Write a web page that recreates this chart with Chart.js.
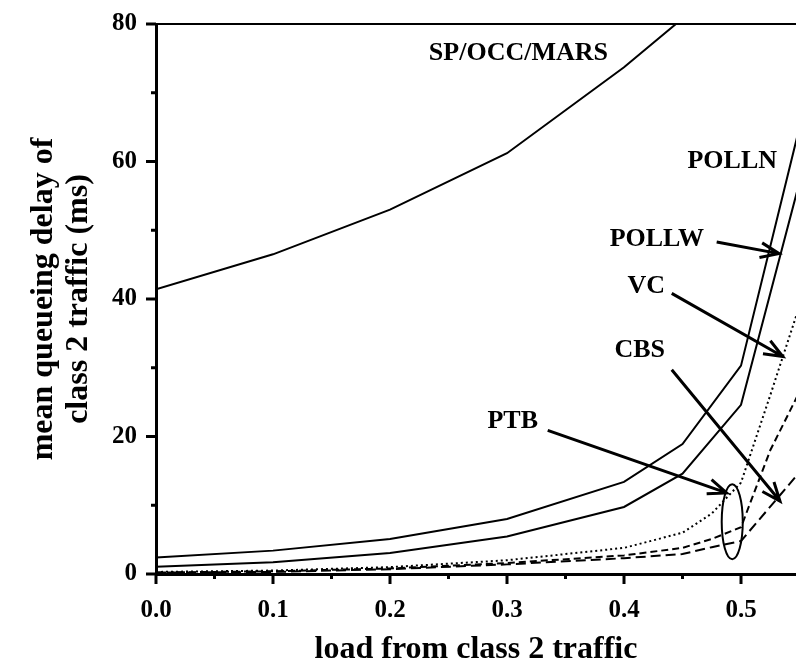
<!DOCTYPE html>
<html>
<head>
<meta charset="utf-8">
<script src="https://cdn.jsdelivr.net/npm/chart.js@4.4.1/dist/chart.umd.min.js"></script>
<style>
  body { margin: 0; background: #fff; }
  #wrap { width: 796px; height: 669px; }
</style>
</head>
<body>
<div id="wrap"><canvas id="myChart" width="796" height="669"></canvas></div>
<script>
// load values (x)
const loadSp = [0, 0.1, 0.2, 0.3, 0.4, 0.45];
const loadCoarse = [0, 0.1, 0.2, 0.3, 0.4, 0.45, 0.5, 0.55];
const loadFine = [0, 0.1, 0.2, 0.3, 0.4, 0.45, 0.475, 0.5, 0.525, 0.55];

// mean queueing delay (ms)
const spOccMars = [41.4, 46.5, 53.0, 61.2, 73.7, 80.8];
const pollN = [2.4, 3.4, 5.1, 8.0, 13.4, 18.9, 30.3, 65.0];
const pollW = [1.05, 1.7, 3.05, 5.45, 9.75, 14.6, 24.6, 57.0];
const vc = [0.3, 0.5, 1.0, 2.0, 3.8, 6.0, 8.8, 13.3, 26.0, 39.0];
const ptb = [0.2, 0.4, 0.8, 1.6, 2.7, 3.8, 5.1, 6.8, 18.0, 26.5];
const cbs = [0.2, 0.3, 0.7, 1.4, 2.3, 2.9, 3.9, 4.8, 9.8, 14.8];

// tick labels
const xTickLabels = ['0.0', '0.1', '0.2', '0.3', '0.4', '0.5'];
const yTickLabels = ['0', '20', '40', '60', '80'];

// annotations, placed in data units
const notes = [
  { text: 'SP/OCC/MARS', x: 0.3863, y: 75.7 },
  { text: 'POLLN', x: 0.5308, y: 60.1 },
  { text: 'POLLW', x: 0.4684, y: 48.75 },
  { text: 'VC', x: 0.435, y: 41.86 },
  { text: 'CBS', x: 0.435, y: 32.54 },
  { text: 'PTB', x: 0.3265, y: 22.22 }
];
const arrows = [
  { from: [0.4792, 48.29], to: [0.5325, 46.6] },
  { from: [0.4408, 40.82], to: [0.5357, 31.64] },
  { from: [0.4408, 29.72], to: [0.5333, 10.61] },
  { from: [0.3348, 20.89], to: [0.4877, 11.8] }
];
const ring = { x: 0.4925, y: 7.6, rx: 0.009, ry: 5.45 };

const serif = '"Liberation Serif", "Times New Roman", serif';

function pairUp(xs, ys) {
  return ys.map((v, i) => ({ x: xs[i], y: v }));
}

function isStep(v, step) {
  const r = v / step;
  return Math.abs(r - Math.round(r)) < 1e-6;
}

function drawArrow(ctx, x1, y1, x2, y2) {
  const ang = Math.atan2(y2 - y1, x2 - x1);
  const len = 20, spread = 22 * Math.PI / 180;
  ctx.beginPath();
  ctx.moveTo(x1, y1);
  ctx.lineTo(x2, y2);
  ctx.moveTo(x2 - len * Math.cos(ang - spread), y2 - len * Math.sin(ang - spread));
  ctx.lineTo(x2, y2);
  ctx.lineTo(x2 - len * Math.cos(ang + spread), y2 - len * Math.sin(ang + spread));
  ctx.stroke();
}

const figureExtras = {
  id: 'figureExtras',
  afterDraw(chart) {
    const ctx = chart.ctx;
    const xs = chart.scales.x, ys = chart.scales.y;
    ctx.save();
    ctx.strokeStyle = '#000';
    ctx.fillStyle = '#000';

    // tick marks, long on labelled values, short in between
    ctx.lineWidth = 3;
    ys.ticks.forEach(t => {
      if (!isStep(t.value, 10)) return;
      const py = ys.getPixelForValue(t.value);
      const l = isStep(t.value, 20) ? 10 : 5;
      ctx.beginPath();
      ctx.moveTo(ys.right - l, py);
      ctx.lineTo(ys.right, py);
      ctx.stroke();
    });
    xs.ticks.forEach(t => {
      if (!isStep(t.value, 0.05)) return;
      const px = xs.getPixelForValue(t.value);
      const l = isStep(t.value, 0.1) ? 10 : 5;
      ctx.beginPath();
      ctx.moveTo(px, xs.top);
      ctx.lineTo(px, xs.top + l);
      ctx.stroke();
    });

    // labels
    ctx.font = 'bold 26px ' + serif;
    ctx.textAlign = 'right';
    ctx.textBaseline = 'middle';
    notes.forEach(n => {
      ctx.fillText(n.text, xs.getPixelForValue(n.x), ys.getPixelForValue(n.y));
    });

    // arrows
    ctx.lineWidth = 3;
    arrows.forEach(a => {
      drawArrow(ctx,
        xs.getPixelForValue(a.from[0]), ys.getPixelForValue(a.from[1]),
        xs.getPixelForValue(a.to[0]), ys.getPixelForValue(a.to[1]));
    });

    // ellipse round the two dashed curves
    ctx.lineWidth = 2;
    const cx = xs.getPixelForValue(ring.x), cy = ys.getPixelForValue(ring.y);
    const rx = xs.getPixelForValue(ring.x + ring.rx) - cx;
    const ry = cy - ys.getPixelForValue(ring.y + ring.ry);
    ctx.beginPath();
    ctx.ellipse(cx, cy, rx, ry, 0, 0, Math.PI * 2);
    ctx.stroke();
    ctx.restore();
  }
};

function lineSet(label, xs, ys, dash) {
  return {
    label: label,
    data: pairUp(xs, ys),
    borderColor: '#000',
    borderWidth: 2,
    borderDash: dash,
    pointRadius: 0,
    fill: false,
    tension: 0
  };
}

const config = {
  type: 'line',
  data: {
    datasets: [
      lineSet('SP/OCC/MARS', loadSp, spOccMars, []),
      lineSet('POLLN', loadCoarse, pollN, []),
      lineSet('POLLW', loadCoarse, pollW, []),
      lineSet('VC', loadFine, vc, [2, 3]),
      lineSet('PTB', loadFine, ptb, [7, 4]),
      lineSet('CBS', loadFine, cbs, [10, 5])
    ]
  },
  options: {
    responsive: false,
    animation: false,
    layout: { padding: { top: 16, right: 0, left: 0, bottom: 0 } },
    plugins: { legend: { display: false }, tooltip: { enabled: false } },
    scales: {
      x: {
        type: 'linear',
        min: 0,
        max: 0.547,
        bounds: 'data',
        border: { color: '#000', width: 3 },
        grid: { drawOnChartArea: false, drawTicks: true, tickLength: 10, tickColor: 'rgba(0,0,0,0)' },
        ticks: {
          stepSize: 0.05,
          includeBounds: false,
          autoSkip: false,
          maxRotation: 0,
          padding: 12,
          color: '#000',
          font: { family: serif, size: 25, weight: 'bold' },
          callback: (v) => {
            const i = xTickLabels.indexOf(Number(v).toFixed(1));
            return isStep(v, 0.1) && i >= 0 ? xTickLabels[i] : '';
          }
        },
        title: {
          display: true,
          text: 'load from class 2 traffic',
          color: '#000',
          font: { family: serif, size: 32, weight: 'bold' },
          padding: { top: 0, bottom: 0 }
        },
        afterFit: (s) => { s.height = 95; s.paddingRight = 0; s.paddingLeft = 0; }
      },
      y: {
        min: 0,
        max: 80,
        border: { color: '#000', width: 3 },
        grid: {
          drawTicks: true,
          tickLength: 10,
          tickColor: 'rgba(0,0,0,0)',
          lineWidth: 2,
          color: (c) => (c.tick && c.tick.value === 80 ? '#000' : 'rgba(0,0,0,0)')
        },
        ticks: {
          stepSize: 10,
          padding: 9,
          color: '#000',
          font: { family: serif, size: 25, weight: 'bold' },
          callback: (v) => (yTickLabels.includes(String(v)) ? String(v) : '')
        },
        title: {
          display: true,
          text: ['mean queueing delay of', 'class 2 traffic (ms)'],
          color: '#000',
          font: { family: serif, size: 32, weight: 'bold', lineHeight: 1.1 },
          padding: { top: 26, bottom: 0 }
        },
        afterFit: (s) => { s.width = 156; }
      }
    }
  },
  plugins: [figureExtras]
};

const myChart = new Chart(document.getElementById('myChart'), config);
</script>
</body>
</html>
